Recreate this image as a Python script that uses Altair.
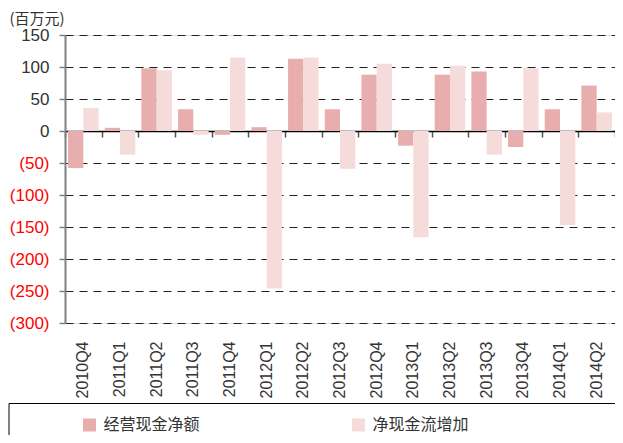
import altair as alt
import pandas as pd

quarters = ["2010Q4", "2011Q1", "2011Q2", "2011Q3", "2011Q4", "2012Q1", "2012Q2",
            "2012Q3", "2012Q4", "2013Q1", "2013Q2", "2013Q3", "2013Q4", "2014Q1", "2014Q2"]
series_names = ["经营现金净额", "净现金流增加"]
operating_cf = [-58, 5, 98, 34, -6, 6, 113, 34, 88, -23, 88, 93, -25, 34, 71]
net_cf_increase = [36, -37, 95, -6, 115, -246, 115, -59, 105, -166, 102, -37, 98, -147, 29]
y_ticks = [150, 100, 50, 0, -50, -100, -150, -200, -250, -300]

rows = []
for i, q in enumerate(quarters):
    rows.append({"quarter": q, "series": series_names[0], "value": operating_cf[i]})
    rows.append({"quarter": q, "series": series_names[1], "value": net_cf_increase[i]})
df = pd.DataFrame(rows)

font = "Liberation Sans"
cjk = "Noto Sans CJK SC"

plot_w, plot_h = 550, 288
y_min, y_max = -300, 150

x_scale = alt.Scale(domain=quarters, paddingInner=0, paddingOuter=0)
y_scale = alt.Scale(domain=[y_min, y_max], nice=False, zero=False)

# an empty, white third legend slot only widens the framed legend box past the right edge
legend_domain = series_names + [" "]

bars = alt.Chart(df).mark_bar().encode(
    x=alt.X("quarter:N", scale=x_scale, sort=quarters,
            axis=alt.Axis(orient="bottom", title=None, labelAngle=-90, labelFont=font,
                          labelFontSize=16, labelColor="#333333", labelPadding=18,
                          ticks=False, tickSize=0, domain=False, grid=False)),
    xOffset=alt.XOffset("series:N", sort=series_names,
                        scale=alt.Scale(domain=series_names, paddingInner=0, paddingOuter=0.2)),
    y=alt.Y("value:Q", scale=y_scale,
            axis=alt.Axis(values=y_ticks, title="(百万元)", titleAngle=0, titleFont=cjk,
                          titleFontSize=15, titleFontWeight="normal", titleColor="#333333",
                          titleX=-56, titleY=-12, titleAlign="left", titleBaseline="alphabetic",
                          labelExpr="datum.value < 0 ? '(' + format(-datum.value, 'd') + ')' : format(datum.value, 'd')",
                          labelColor={"condition": {"test": "datum.value < 0", "value": "#FF0000"},
                                      "value": "#333333"},
                          labelFont=font, labelFontSize=17, labelPadding=10, labelOverlap=False,
                          tickSize=6, tickColor="#808080", tickWidth=1.5,
                          domainColor="#808080", domainWidth=2,
                          grid=True, gridDash=[8, 6], gridColor="#222222", gridWidth=1)),
    color=alt.Color("series:N",
                    scale=alt.Scale(domain=legend_domain, range=["#E8AEAD", "#F6DBDB", "#FFFFFF"]),
                    legend=alt.Legend(title=" ", titleOrient="left", titleFontSize=1,
                                      titlePadding=59,
                                      orient="none", legendX=-56.5, legendY=368,
                                      direction="horizontal", columns=3, columnPadding=150,
                                      symbolType="square", symbolSize=169,
                                      symbolStrokeWidth=0, labelFont=cjk, labelFontSize=16,
                                      labelColor="#333333", labelOffset=6,
                                      strokeColor="#000000", padding=14,
                                      labelLimit=300)),
)

zero_axis = alt.Chart(df).mark_rule(opacity=0).encode(
    x=alt.X("quarter:N", scale=x_scale, sort=quarters,
            axis=alt.Axis(orient="bottom", offset=-plot_h * (0 - y_min) / (y_max - y_min),
                          labels=False, title=None,
                          domain=True, domainColor="#000000", domainWidth=1.5,
                          ticks=True, tickBand="extent", tickSize=6, tickColor="#555555",
                          tickWidth=1.5, grid=False)),
    y=alt.value(0),
)

chart = alt.layer(bars, zero_axis).resolve_axis(x="independent").properties(
    width=plot_w, height=plot_h,
    autosize=alt.AutoSizeParams(type="none"),
    padding={"left": 57, "top": 27, "right": 0, "bottom": 112},
).configure_view(stroke=None).configure(background="white")

chart.save("out.html", embed_options={"renderer": "svg", "actions": False})
